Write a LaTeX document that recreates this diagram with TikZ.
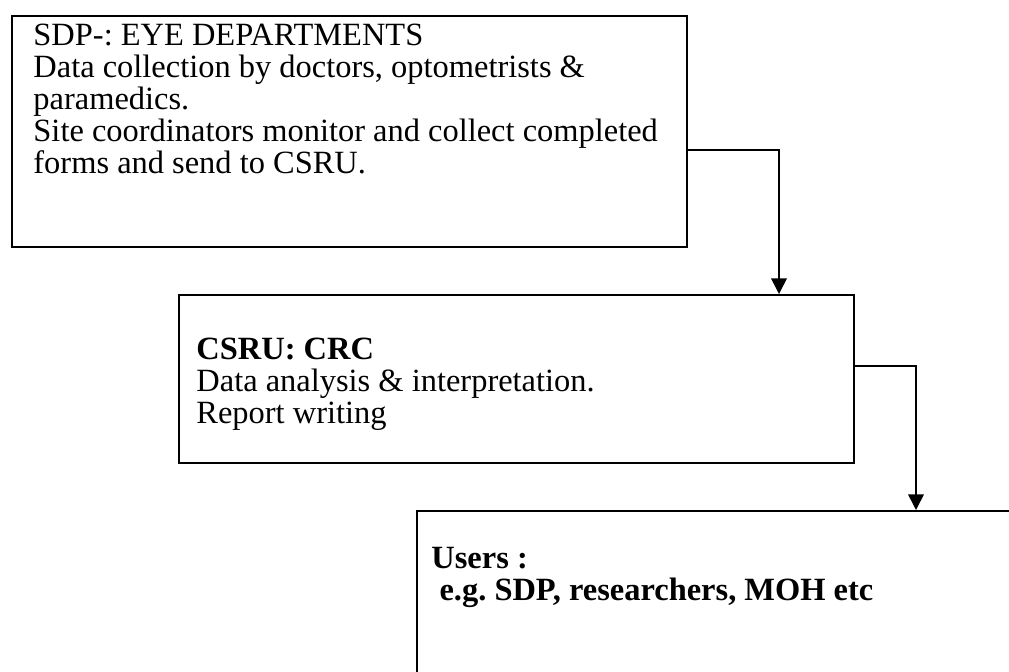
\documentclass[tikz,border=0pt]{standalone}
\usepackage{fontspec}
\setmainfont{Liberation Serif}
\frenchspacing
\usetikzlibrary{positioning,arrows.meta}
\tikzset{flow box/.style={draw,line width=0.7pt,rectangle,anchor=north west,inner sep=0pt},
	box text/.style={anchor=north west,align=left,inner sep=0pt,font=\fontsize{14.6}{14.3}\selectfont},
	flow/.style={draw,line width=0.7pt,-{Triangle[width=7pt,length=7pt]}},}

\begin{document}
\begin{tikzpicture}[x=0.45pt,y=-0.45pt]
			\useasboundingbox (0,0) rectangle (1009,671);
			\clip (0,0) rectangle (1009,671);

			% the three boxes
			\node[flow box,minimum width=675*0.45pt,minimum height=231*0.45pt] (sdp) at (11,15) {};
			\node[flow box,minimum width=675*0.45pt,minimum height=168*0.45pt] (csru) at (178,294) {};
			\node[flow box,minimum width=700*0.45pt,minimum height=250*0.45pt] (users) at (416,510) {};

			% their texts
			\node[box text] (sdp text) at (33,24) {SDP-: EYE DEPARTMENTS\\
				Data collection by doctors, optometrists \&\\
				paramedics.\\
				Site coordinators monitor and collect completed\\
				forms and send to CSRU.};
			\node[box text] (csru text) at (196,338) {\textbf{CSRU: CRC}\\
				Data analysis \& interpretation.\\
				Report writing};
			\node[box text] (users text) at (431,547) {\textbf{Users :}\\
				\textbf{\ e.g. SDP, researchers, MOH etc}};

			% connectors
			\path[flow] (sdp.east |- 0,150) -| (csru.north -| 779,0);
			\path[flow] (csru.east |- 0,366) -| (users.north -| 916,0);
\end{tikzpicture}
\end{document}
